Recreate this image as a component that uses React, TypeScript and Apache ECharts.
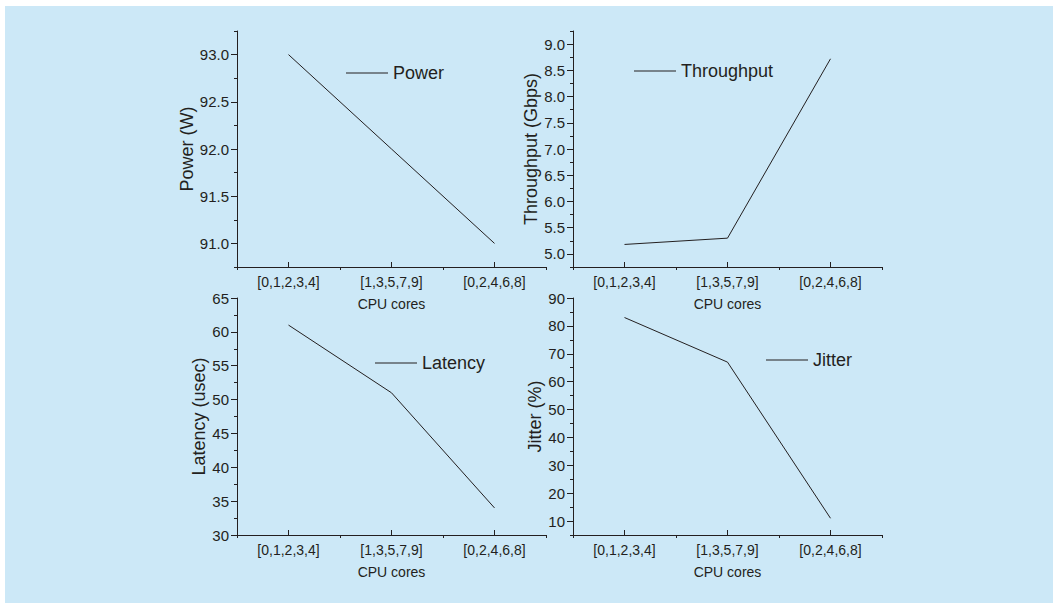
import React, { useEffect, useRef } from "react";
import * as echarts from "echarts";

const categories = ["[0,1,2,3,4]", "[1,3,5,7,9]", "[0,2,4,6,8]"];

const powerValues = [93.0, 92.0, 91.0];
const throughputValues = [5.18, 5.3, 8.72];
const latencyValues = [61, 51, 34];
const jitterValues = [83, 67, 11];

const powerTicks = [91.0, 91.5, 92.0, 92.5, 93.0];
const powerMinorTicks = [90.75, 91.25, 91.75, 92.25, 92.75, 93.25];
const throughputTicks = [5.0, 5.5, 6.0, 6.5, 7.0, 7.5, 8.0, 8.5, 9.0];
const throughputMinorTicks = [4.75, 5.25, 5.75, 6.25, 6.75, 7.25, 7.75, 8.25, 8.75, 9.25];
const latencyTicks = [30, 35, 40, 45, 50, 55, 60, 65];
const latencyMinorTicks = [32.5, 37.5, 42.5, 47.5, 52.5, 57.5, 62.5];
const jitterTicks = [10, 20, 30, 40, 50, 60, 70, 80, 90];
const jitterMinorTicks = [5, 15, 25, 35, 45, 55, 65, 75, 85];

const FONT = "'Liberation Sans', Arial, Helvetica, sans-serif";
const INK = "#231f20";

type Panel = {
  name: string;
  axisName: string;
  values: number[];
  min: number;
  max: number;
  ticks: number[];
  minor: number[];
  decimals: number;
  grid: { left: number; top: number; width: number; height: number };
  nameGap: number;
  legend: { left: number; top: number };
};

const panels: Panel[] = [
  {
    name: "Power",
    axisName: "Power (W)",
    values: powerValues,
    min: 90.75,
    max: 93.25,
    ticks: powerTicks,
    minor: powerMinorTicks,
    decimals: 1,
    grid: { left: 237, top: 31, width: 309, height: 236 },
    nameGap: 41,
    legend: { left: 346, top: 64 },
  },
  {
    name: "Throughput",
    axisName: "Throughput (Gbps)",
    values: throughputValues,
    min: 4.75,
    max: 9.25,
    ticks: throughputTicks,
    minor: throughputMinorTicks,
    decimals: 1,
    grid: { left: 573, top: 31, width: 309, height: 236 },
    nameGap: 33,
    legend: { left: 634, top: 62 },
  },
  {
    name: "Latency",
    axisName: "Latency (usec)",
    values: latencyValues,
    min: 30,
    max: 65,
    ticks: latencyTicks,
    minor: latencyMinorTicks,
    decimals: 0,
    grid: { left: 237, top: 298, width: 309, height: 237 },
    nameGap: 25,
    legend: { left: 375, top: 354 },
  },
  {
    name: "Jitter",
    axisName: "Jitter (%)",
    values: jitterValues,
    min: 5,
    max: 90,
    ticks: jitterTicks,
    minor: jitterMinorTicks,
    decimals: 0,
    grid: { left: 573, top: 298, width: 309, height: 237 },
    nameGap: 28,
    legend: { left: 766, top: 351 },
  },
];

export default function App() {
  const ref = useRef<HTMLDivElement>(null);

  useEffect(() => {
    if (!ref.current) return;
    const chart = echarts.init(ref.current, undefined, { renderer: "svg" });

    const grid: any[] = [];
    const xAxis: any[] = [];
    const yAxis: any[] = [];
    const series: any[] = [];
    const legend: any[] = [];

    panels.forEach((p, i) => {
      grid.push({ ...p.grid, containLabel: false });
      // main category axis: labels and centre ticks
      xAxis.push({
        type: "category",
        gridIndex: i,
        position: "bottom",
        data: categories,
        boundaryGap: true,
        name: "CPU cores",
        nameLocation: "middle",
        nameGap: 30,
        nameTextStyle: { fontFamily: FONT, fontSize: 14, color: INK },
        axisLine: { show: true, lineStyle: { color: INK, width: 1 } },
        axisTick: { show: true, alignWithLabel: true, inside: true, length: 5, lineStyle: { color: INK } },
        axisLabel: { show: true, margin: 8, fontFamily: FONT, fontSize: 14, color: INK },
        splitLine: { show: false },
      });
      // boundary ticks axis
      xAxis.push({
        type: "category",
        gridIndex: i,
        position: "bottom",
        data: categories,
        boundaryGap: true,
        axisLine: { show: false },
        axisTick: { show: true, alignWithLabel: false, inside: false, length: 3, lineStyle: { color: INK } },
        axisLabel: { show: false },
        splitLine: { show: false },
      });
      yAxis.push({
        type: "value",
        gridIndex: i,
        position: "left",
        min: p.min,
        max: p.max,
        name: p.axisName,
        nameLocation: "middle",
        nameGap: p.nameGap,
        nameTextStyle: { fontFamily: FONT, fontSize: 18, color: INK },
        axisLine: { show: true, lineStyle: { color: INK, width: 1 } },
        axisTick: { show: true, length: 6, customValues: p.ticks, lineStyle: { color: INK } },
        axisLabel: {
          show: true,
          margin: 8,
          customValues: p.ticks,
          fontFamily: FONT,
          fontSize: 15,
          color: INK,
          formatter: (v: number) => Number(v).toFixed(p.decimals),
        },
        splitLine: { show: false },
      });
      yAxis.push({
        type: "value",
        gridIndex: i,
        position: "left",
        min: p.min,
        max: p.max,
        axisLine: { show: false },
        axisTick: { show: true, length: 3, customValues: p.minor, lineStyle: { color: INK } },
        axisLabel: { show: false, customValues: p.minor },
        splitLine: { show: false },
      });
      series.push({
        type: "line",
        name: p.name,
        xAxisIndex: 2 * i,
        yAxisIndex: 2 * i,
        data: p.values,
        symbol: "none",
        showSymbol: false,
        color: INK,
        lineStyle: { color: INK, width: 1 },
      });
      legend.push({
        data: [p.name],
        left: p.legend.left,
        top: p.legend.top,
        padding: 0,
        icon: "rect",
        itemWidth: 42,
        itemHeight: 1,
        itemStyle: { color: INK },
        textStyle: { fontFamily: FONT, fontSize: 18, color: INK },
        selectedMode: false,
      });
    });

    chart.setOption({
      animation: false,
      backgroundColor: "#ffffff",
      graphic: [
        {
          type: "rect",
          z: -10,
          silent: true,
          shape: { x: 5, y: 6, width: 1048, height: 597 },
          style: { fill: "#cce8f7" },
        },
      ],
      grid,
      xAxis,
      yAxis,
      series,
      legend,
    });

    return () => chart.dispose();
  }, []);

  return (
    <div
      ref={ref}
      style={{ position: "fixed", left: 0, top: 0, width: 1053, height: 603 }}
    />
  );
}
